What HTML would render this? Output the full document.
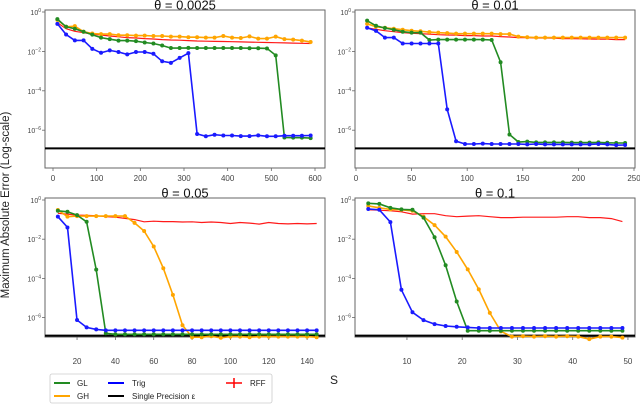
<!DOCTYPE html>
<html><head><meta charset="utf-8"><style>
body{margin:0;background:#fff;width:640px;height:407px;overflow:hidden}
svg{font-family:"Liberation Sans",sans-serif}
</style></head><body>
<svg id="chart" width="640" height="407" viewBox="0 0 640 407">
<text x="9" y="205" font-size="11.5" fill="#222" text-anchor="middle" transform="rotate(-90 9 205)">Maximum Absolute Error (Log-scale)</text>
<text x="330" y="384" font-size="12" fill="#222">S</text>
<g>
<rect x="50" y="374" width="222" height="29" fill="#fff" stroke="#ccc" stroke-width="0.8" rx="2"/>
<line x1="54" y1="383" x2="70" y2="383" stroke="#228b22" stroke-width="2"/><text x="77" y="386" font-size="8" fill="#222">GL</text>
<line x1="54" y1="396" x2="70" y2="396" stroke="#ffa500" stroke-width="2"/><text x="77" y="399" font-size="8" fill="#222">GH</text>
<line x1="108" y1="383" x2="124" y2="383" stroke="#0000ff" stroke-width="2"/><text x="132" y="386" font-size="8" fill="#222">Trig</text>
<line x1="108" y1="396" x2="124" y2="396" stroke="#000" stroke-width="2"/><text x="132" y="399" font-size="8" fill="#222">Single Precision ε</text>
<line x1="226" y1="383" x2="242" y2="383" stroke="#ff0000" stroke-width="1.5"/><line x1="234" y1="378" x2="234" y2="388" stroke="#ff0000" stroke-width="1.5"/><text x="250" y="386" font-size="8" fill="#222">RFF</text>
</g>
</svg>
<script>
// Data (log10 of error)
const tlX=[10,30,50,70,90,110,130,150,170,190,210,230,250,270,290,310,330,350,370,390,410,430,450,470,490,510,530,550,570,590];
const tlGL=[-0.36,-0.75,-0.85,-1.0,-1.15,-1.3,-1.38,-1.45,-1.45,-1.48,-1.55,-1.6,-1.7,-1.83,-1.83,-1.82,-1.83,-1.83,-1.83,-1.83,-1.83,-1.83,-1.84,-1.84,-1.85,-2.2,-6.37,-6.38,-6.38,-6.4];
const tlTrig=[-0.6,-1.14,-1.44,-1.44,-1.87,-2.07,-1.95,-2.03,-2.15,-2.03,-2.03,-2.12,-2.5,-2.58,-2.33,-2.09,-6.19,-6.31,-6.23,-6.27,-6.27,-6.3,-6.3,-6.26,-6.31,-6.31,-6.28,-6.28,-6.28,-6.27];
const tlGH=[-0.4,-0.75,-0.72,-1.0,-1.09,-1.12,-1.12,-1.18,-1.18,-1.2,-1.2,-1.22,-1.22,-1.25,-1.25,-1.28,-1.28,-1.3,-1.3,-1.22,-1.3,-1.32,-1.24,-1.35,-1.35,-1.25,-1.38,-1.4,-1.45,-1.52];
const tlRFF=[-0.55,-0.85,-0.98,-1.05,-1.12,-1.17,-1.22,-1.26,-1.3,-1.32,-1.35,-1.37,-1.4,-1.42,-1.43,-1.45,-1.47,-1.48,-1.49,-1.5,-1.51,-1.52,-1.53,-1.54,-1.55,-1.56,-1.57,-1.58,-1.59,-1.6];
const trX=[10,18,26,34,42,50,58,66,74,82,90,98,106,114,122,130,138,146,154,162,170,178,186,194,202,210,218,226,234,242];
const trGL=[-0.44,-0.7,-0.81,-0.9,-1.0,-1.05,-1.05,-1.42,-1.4,-1.4,-1.4,-1.4,-1.4,-1.4,-1.42,-2.55,-6.22,-6.6,-6.58,-6.62,-6.62,-6.62,-6.62,-6.63,-6.63,-6.63,-6.62,-6.64,-6.65,-6.65];
const trTrig=[-0.8,-0.96,-1.3,-1.3,-1.6,-1.6,-1.6,-1.6,-1.6,-4.94,-6.56,-6.7,-6.7,-6.68,-6.7,-6.7,-6.7,-6.7,-6.72,-6.7,-6.72,-6.72,-6.72,-6.72,-6.72,-6.72,-6.7,-6.72,-6.76,-6.75];
const trGH=[-0.6,-0.75,-0.8,-0.85,-0.9,-0.95,-0.98,-1.02,-1.05,-1.07,-1.1,-1.1,-1.1,-1.1,-1.1,-1.12,-1.12,-1.25,-1.28,-1.3,-1.3,-1.3,-1.3,-1.3,-1.3,-1.3,-1.3,-1.3,-1.3,-1.3];
const trRFF=[-0.8,-0.88,-0.95,-1.0,-1.05,-1.08,-1.1,-1.12,-1.15,-1.17,-1.18,-1.2,-1.2,-1.22,-1.22,-1.25,-1.27,-1.3,-1.3,-1.32,-1.32,-1.33,-1.35,-1.35,-1.36,-1.37,-1.38,-1.38,-1.4,-1.4];
const blX=[10,15,20,25,30,35,40,45,50,55,60,65,70,75,80,85,90,95,100,105,110,115,120,125,130,135,140,145];
const blGL=[-0.55,-0.6,-0.77,-1.11,-3.55,-6.8,-6.85,-6.85,-6.85,-6.85,-6.85,-6.85,-6.85,-6.85,-6.85,-6.85,-6.85,-6.85,-6.85,-6.85,-6.85,-6.85,-6.85,-6.85,-6.85,-6.85,-6.85,-6.85];
const blTrig=[-0.85,-1.4,-6.12,-6.5,-6.6,-6.65,-6.65,-6.65,-6.65,-6.65,-6.65,-6.65,-6.65,-6.65,-6.65,-6.65,-6.65,-6.65,-6.65,-6.65,-6.65,-6.65,-6.65,-6.65,-6.65,-6.65,-6.65,-6.65];
const blGH=[-0.51,-0.85,-0.82,-0.82,-0.82,-0.82,-0.82,-0.82,-1.17,-1.58,-2.37,-3.48,-4.84,-6.39,-7.0,-7.0,-6.95,-7.03,-6.97,-6.97,-7.0,-6.97,-6.97,-6.97,-6.97,-6.97,-6.97,-7.0];
const blRFF=[-0.68,-0.72,-0.77,-0.78,-0.8,-0.85,-0.88,-0.94,-1.0,-1.11,-1.08,-1.1,-1.1,-1.12,-1.11,-1.15,-1.12,-1.15,-1.2,-1.15,-1.18,-1.23,-1.15,-1.2,-1.22,-1.2,-1.22,-1.2];
const brX=[3,5,7,9,11,13,15,17,19,21,23,25,27,29,31,33,35,37,39,41,43,45,47,49];
const brGL=[-0.17,-0.2,-0.4,-0.48,-0.5,-0.9,-1.9,-3.33,-5.18,-6.67,-6.67,-6.67,-6.67,-6.67,-6.67,-6.67,-6.67,-6.67,-6.67,-6.67,-6.67,-6.67,-6.67,-6.67];
const brTrig=[-0.46,-0.5,-1.13,-4.58,-5.73,-6.13,-6.33,-6.43,-6.47,-6.5,-6.53,-6.53,-6.53,-6.53,-6.53,-6.53,-6.53,-6.53,-6.53,-6.53,-6.53,-6.53,-6.53,-6.53];
const brGH=[-0.3,-0.4,-0.48,-0.5,-0.55,-0.85,-1.28,-1.87,-2.65,-3.54,-4.56,-5.76,-6.7,-6.97,-6.95,-6.97,-6.95,-6.97,-6.95,-6.97,-7.1,-6.97,-6.97,-7.02];
const brRFF=[-0.5,-0.52,-0.55,-0.6,-0.72,-0.7,-0.7,-0.8,-0.85,-0.82,-0.8,-0.85,-0.9,-0.9,-0.88,-0.88,-0.88,-0.88,-0.85,-0.85,-0.9,-0.9,-0.95,-1.1];
const epsLog=-6.92;
const yTicks=[0,-2,-4,-6];
const tlXT=[0,100,200,300,400,500,600], trXT=[0,50,100,150,200,250], blXT=[20,40,60,80,100,120,140], brXT=[10,20,30,40,50];

const NS='http://www.w3.org/2000/svg';
const svg=document.getElementById('chart');
function mk(t,a,p){const e=document.createElementNS(NS,t);for(const k in a)e.setAttribute(k,a[k]);(p||svg).appendChild(e);return e;}
const panels=[
 {name:'panel-theta-0.0025',title:'θ = 0.0025',L:45,R:325,T:10,B:168,tx:185,x0:53,ppu:262/600,y0:12,ppd:19.7,X:tlX,s:[tlRFF,tlGH,tlGL,tlTrig],xt:tlXT,xl:181},
 {name:'panel-theta-0.01',title:'θ = 0.01',L:355,R:635,T:10,B:168,tx:495,x0:356,ppu:278/250,y0:12,ppd:19.7,X:trX,s:[trRFF,trGH,trGL,trTrig],xt:trXT,xl:181},
 {name:'panel-theta-0.05',title:'θ = 0.05',L:45,R:325,T:198,B:337,tx:185,x0:38.7,ppu:1.917,y0:200,ppd:19.6,X:blX,s:[blRFF,blGH,blGL,blTrig],xt:blXT,xl:364},
 {name:'panel-theta-0.1',title:'θ = 0.1',L:355,R:635,T:198,B:337,tx:495,x0:351.7,ppu:5.525,y0:200,ppd:19.6,X:brX,s:[brRFF,brGH,brGL,brTrig],xt:brXT,xl:364}
];
const colors=['#ff1a1a','#ffa500','#228b22','#1a1aff'];
const snames=['rff','gh','gl','trig'];
panels.forEach(p=>{
 const g=mk('g',{});
 
 
 const xs=v=>p.x0+v*p.ppu, ys=v=>p.y0-v*p.ppd;
 const fr=mk('rect',{x:p.L,y:p.T,width:p.R-p.L,height:p.B-p.T,fill:'none',stroke:'#666','stroke-width':1},g);
 
 
 const t=mk('text',{x:p.tx,y:p.T-0.5,'font-size':13,'text-anchor':'middle',fill:'#111'},g);t.textContent=p.title;
 
 
 yTicks.forEach(v=>{const y=ys(v);
  mk('line',{x1:p.L-3,x2:p.L,y1:y,y2:y,stroke:'#666','stroke-width':0.8},g);
  const tt=mk('text',{x:p.L-4,y:y+3,'font-size':7,'text-anchor':'end',fill:'#444'},g);
  tt.innerHTML='10<tspan dy="-3" font-size="5">'+(v===0?'0':'−'+(-v))+'</tspan>';
  
  });
 p.xt.forEach(v=>{const x=xs(v);
  mk('line',{x1:x,x2:x,y1:p.B,y2:p.B+3,stroke:'#666','stroke-width':0.8},g);
  const tt=mk('text',{x:x,y:p.xl,'font-size':8,'text-anchor':'middle',fill:'#444'},g);tt.textContent=v;
  
  });
 const el=mk('line',{x1:p.L,x2:p.R,y1:ys(epsLog),y2:ys(epsLog),stroke:'#000','stroke-width':2},g);
 
 
 p.s.forEach((arr,i)=>{
  const pts=arr.map((v,j)=>xs(p.X[j]).toFixed(1)+','+ys(v).toFixed(1)).join(' ');
  const pl=mk('polyline',{points:pts,fill:'none',stroke:colors[i],'stroke-width':i===0?1.2:1.6},g);
  
  
  if(i>0)arr.forEach((v,j)=>{const c=mk('circle',{cx:xs(p.X[j]),cy:ys(v),r:2,fill:colors[i]},g);
   
   });
 });
});
</script>
</body></html>
